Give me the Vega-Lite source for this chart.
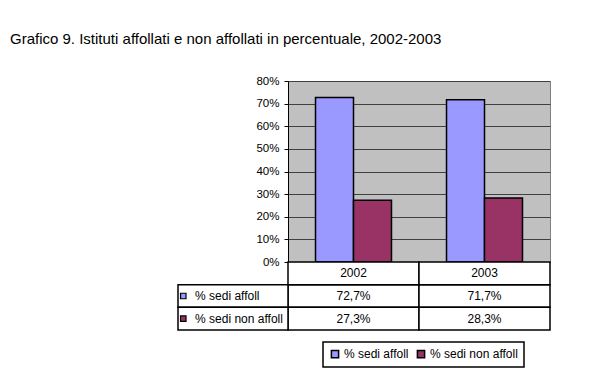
{
  "$schema": "https://vega.github.io/schema/vega-lite/v6.json",
  "padding": {"left": 10, "top": 31, "right": 0, "bottom": 0},
  "background": "white",
  "title": {
    "text": "Grafico 9. Istituti affollati e non affollati in percentuale, 2002-2003",
    "anchor": "start",
    "frame": "group",
    "dx": -278,
    "offset": 28,
    "fontSize": 15,
    "fontWeight": "normal",
    "font": "Liberation Sans",
    "color": "black"
  },
  "datasets": {
    "d": [
      {"year": "2002", "series": "% sedi affoll", "value": 0.727},
      {"year": "2002", "series": "% sedi non affoll", "value": 0.273},
      {"year": "2003", "series": "% sedi affoll", "value": 0.717},
      {"year": "2003", "series": "% sedi non affoll", "value": 0.283}
    ]
  },
  "data": {"name": "d"},
  "spacing": 0,
  "bounds": "flush",
  "resolve": {"scale": {"color": "shared", "x": "independent", "y": "independent"}},
  "vconcat": [
    {
      "width": 262,
      "height": 181,
      "view": {"fill": "#C0C0C0", "stroke": "#808080", "strokeWidth": 1},
      "mark": {"type": "bar", "stroke": "black", "strokeWidth": 1.5},
      "encoding": {
        "x": {"field": "year", "type": "nominal", "axis": null, "scale": {"paddingInner": 0.42, "paddingOuter": 0.21}},
        "xOffset": {"field": "series", "type": "nominal", "scale": {"domain": ["% sedi affoll", "% sedi non affoll"], "paddingInner": 0, "paddingOuter": 0}},
        "y": {
          "field": "value",
          "type": "quantitative",
          "scale": {"domain": [0, 0.8], "nice": false},
          "axis": {
            "title": null,
            "format": ".0%",
            "values": [0, 0.1, 0.2, 0.3, 0.4, 0.5, 0.6, 0.7, 0.8],
            "grid": true,
            "gridColor": "#404040",
            "gridOpacity": 1,
            "domainColor": "black",
            "tickColor": "black",
            "tickSize": 4,
            "labelPadding": 5,
            "labelFontSize": 11.5,
            "labelColor": "black",
            "labelFont": "Liberation Sans"
          }
        },
        "color": {
          "field": "series",
          "type": "nominal",
          "scale": {"domain": ["% sedi affoll", "% sedi non affoll"], "range": ["#9999FF", "#993366"]},
          "legend": {
            "orient": "none",
            "legendX": 35,
            "legendY": 261,
            "direction": "horizontal",
            "title": null,
            "symbolType": "square",
            "symbolSize": 52,
            "symbolStrokeColor": "black",
            "symbolStrokeWidth": 1.5,
            "symbolOpacity": 1,
            "labelFontSize": 12,
            "labelFont": "Liberation Sans",
            "labelColor": "black",
            "strokeColor": "black",
            "fillColor": "white",
            "padding": 6,
            "columnPadding": 5,
            "labelOffset": 3,
            "encode": {"legend": {"update": {"strokeWidth": {"value": 1.5}}}}
          }
        }
      }
    },
    {
      "width": 262,
      "height": 68,
      "view": {"stroke": null},
      "layer": [
        {
          "layer": [
            {
              "mark": {"type": "rect", "fill": "white", "stroke": "black", "strokeWidth": 1.5},
              "encoding": {
                "x": {"field": "year", "type": "nominal", "axis": null, "scale": {"paddingInner": 0, "paddingOuter": 0}},
                "y": {"field": "series", "type": "nominal", "axis": null, "scale": {"domain": ["hdr", "% sedi affoll", "% sedi non affoll"], "paddingInner": 0, "paddingOuter": 0}}
              }
            },
            {
              "mark": {"type": "text", "fontSize": 12, "font": "Liberation Sans", "color": "black"},
              "encoding": {
                "x": {"field": "year", "type": "nominal", "axis": null},
                "y": {"field": "series", "type": "nominal", "axis": null},
                "text": {"field": "value", "type": "quantitative", "format": ".1%"}
              }
            },
            {
              "transform": [{"aggregate": [{"op": "count", "as": "n"}], "groupby": ["year"]}],
              "mark": {"type": "rect", "fill": "white", "stroke": "black", "strokeWidth": 1.5},
              "encoding": {
                "x": {"field": "year", "type": "nominal", "axis": null},
                "y": {"datum": "hdr", "type": "nominal", "axis": null}
              }
            },
            {
              "transform": [{"aggregate": [{"op": "count", "as": "n"}], "groupby": ["year"]}],
              "mark": {"type": "text", "fontSize": 12, "font": "Liberation Sans", "color": "black"},
              "encoding": {
                "x": {"field": "year", "type": "nominal", "axis": null},
                "y": {"datum": "hdr", "type": "nominal", "axis": null},
                "text": {"field": "year", "type": "nominal"}
              }
            }
          ]
        },
        {
          "transform": [{"aggregate": [{"op": "count", "as": "n"}], "groupby": ["series"]}],
          "layer": [
            {
              "mark": {"type": "rect", "fill": "white", "stroke": "black", "strokeWidth": 1.5},
              "encoding": {
                "x": {"datum": "lab", "type": "nominal", "axis": null, "scale": {"domain": ["lab"], "range": [-110, 0], "paddingInner": 0, "paddingOuter": 0}},
                "y": {"field": "series", "type": "nominal", "axis": null}
              }
            },
            {
              "mark": {"type": "point", "shape": "square", "filled": true, "size": 30, "stroke": "black", "strokeWidth": 1.2, "opacity": 1},
              "encoding": {
                "x": {"datum": "lab", "type": "nominal", "axis": null, "bandPosition": 0.048},
                "y": {"field": "series", "type": "nominal", "axis": null},
                "color": {"field": "series", "type": "nominal"}
              }
            },
            {
              "mark": {"type": "text", "align": "left", "fontSize": 12, "font": "Liberation Sans", "color": "black"},
              "encoding": {
                "x": {"datum": "lab", "type": "nominal", "axis": null, "bandPosition": 0.155},
                "y": {"field": "series", "type": "nominal", "axis": null},
                "text": {"field": "series", "type": "nominal"}
              }
            }
          ]
        }
      ],
      "resolve": {"scale": {"x": "independent"}}
    }
  ],
  "config": {
    "view": {"stroke": null},
    "font": "Liberation Sans",
    "locale": {"number": {"decimal": ",", "thousands": ".", "grouping": [3], "currency": ["", " €"]}}
  }
}
